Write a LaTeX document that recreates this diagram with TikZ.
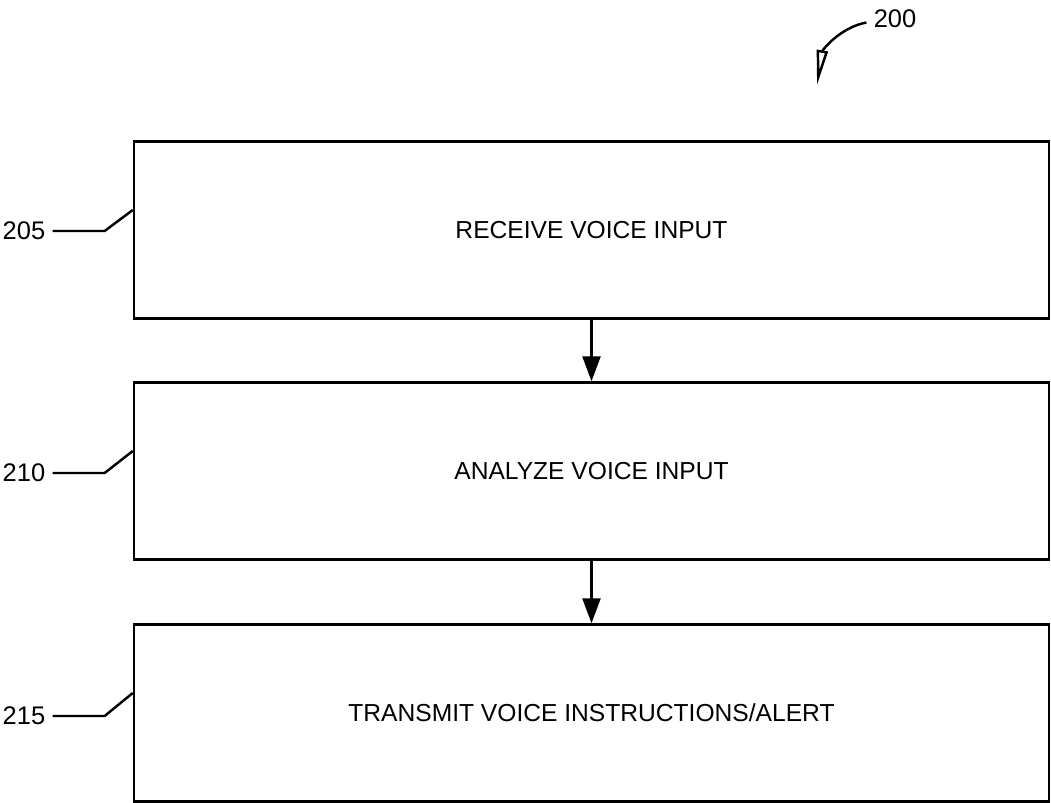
\documentclass[tikz,border=0pt]{standalone}
\usepackage{fontspec}
\setmainfont{Liberation Sans}
\usetikzlibrary{arrows.meta}
\tikzset{
  stepbox/.style={draw, line width=1.4pt, minimum width=18.3cm, minimum height=3.54cm, inner sep=0pt, font=\fontsize{14}{16}\selectfont},
  reflabel/.style={inner sep=1pt, font=\fontsize{14.5}{16}\selectfont},
  flow/.style={line width=1.4pt, -{Triangle[length=0.5cm, width=0.36cm]}},
  leader/.style={line width=1.4pt}
}
\begin{document}
\begin{tikzpicture}
  \useasboundingbox (0,0) rectangle (21.02,-16.06);
  \node[stepbox] (receive) at (11.83,-4.6) {RECEIVE VOICE INPUT};
  \node[stepbox] (analyze) at (11.83,-9.42) {ANALYZE VOICE INPUT};
  \node[stepbox] (transmit) at (11.83,-14.26) {TRANSMIT VOICE INSTRUCTIONS/ALERT};
  \draw[flow] (receive) -- (analyze);
  \draw[flow] (analyze) -- (transmit);

  \node[reflabel] (l205) at (0.48,-4.62) {205};
  \node[reflabel] (l210) at (0.48,-9.46) {210};
  \node[reflabel] (l215) at (0.48,-14.32) {215};
  \draw[leader] ([xshift=3pt]l205.east) -- ++(1.04,0) -- ([yshift=0.4cm]receive.west);
  \draw[leader] ([xshift=3pt]l210.east) -- ++(1.04,0) -- ([yshift=0.4cm]analyze.west);
  \draw[leader] ([xshift=3pt]l215.east) -- ++(1.04,0) -- ([yshift=0.4cm]transmit.west);

  \node[reflabel] (l200) at (17.9,-0.38) {200};
  \coordinate (tip200) at (16.34,-1.7);
  \draw[leader, -{Triangle[open, length=0.7cm, width=0.22cm]}] ([xshift=-3pt,yshift=-2pt]l200.west) .. controls (16.8,-0.55) and (16.45,-1.0) .. (tip200);
\end{tikzpicture}
\end{document}
